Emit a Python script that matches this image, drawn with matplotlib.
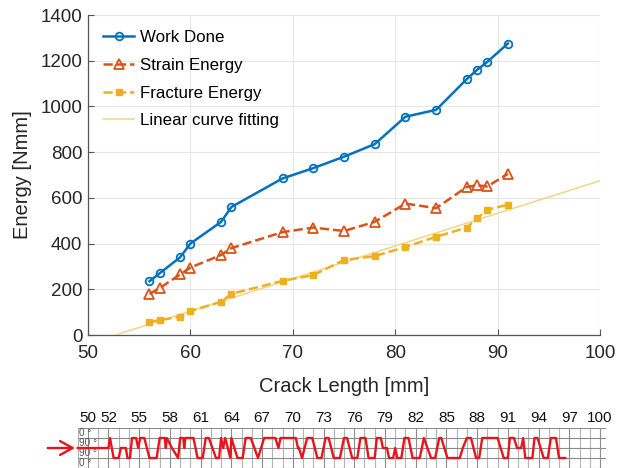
import numpy as np
import matplotlib
matplotlib.use("Agg")
import matplotlib.pyplot as plt

plt.rcParams['font.family'] = ['Liberation Sans', 'DejaVu Sans']

# ---------------- data ----------------
crack_length = [56, 57, 59, 60, 63, 64, 69, 72, 75, 78, 81, 84, 87, 88, 89, 91]
work_done = [235, 270, 340, 400, 495, 560, 685, 730, 780, 835, 955, 985, 1120, 1160, 1195, 1275]
strain_energy = [180, 205, 265, 295, 350, 380, 450, 470, 455, 495, 575, 555, 648, 655, 650, 705]
fracture_energy = [57, 65, 80, 105, 145, 180, 237, 262, 328, 345, 385, 430, 470, 510, 548, 570]
fit_slope = 14.27
fit_intercept = -752.0

x_ticks = [50, 60, 70, 80, 90, 100]
y_ticks = [0, 200, 400, 600, 800, 1000, 1200, 1400]

# ply-angle strip (level: 1 = upper 90°, 0 = mid, -1 = lower 90°)
strip_ticks = [50, 52, 55, 58, 61, 64, 67, 70, 73, 76, 79, 82, 85, 88, 91, 94, 97, 100]
row_labels = ["0 °", "90 °", "90 °", "0 °"]
ply_x = [49, 52.0, 52.15, 52.5, 53.0, 53.2, 53.7, 53.85, 54.1, 54.3, 54.7, 54.9, 55.1, 55.5,
         56.0, 56.7, 57.0, 57.5, 57.6, 57.7, 58.2, 58.8, 59.0, 59.3, 59.4, 59.5, 60.3, 60.7,
         61.2, 61.5, 61.8, 62.5, 62.8, 63.0, 63.2, 63.4, 63.9, 64.0, 64.6, 65.1, 65.4, 65.9,
         66.6, 67.2, 68.3, 68.6, 68.8, 70.3, 70.5, 70.6, 70.9, 71.4, 71.9, 72.4, 72.8, 73.2,
         73.5, 74.0, 74.6, 75.0, 75.3, 75.8, 76.3, 76.6, 77.1, 77.4, 78.0, 78.2, 78.6, 78.8,
         79.2, 79.4, 79.8, 80.0, 80.2, 80.6, 80.9, 81.3, 81.7, 82.4, 82.8, 83.5, 83.9, 84.3,
         84.5, 85.1, 86.3, 86.6, 87.0, 87.4, 87.9, 88.2, 88.5, 90.0, 90.6, 91.0, 91.2, 91.6,
         91.9, 92.3, 92.5, 92.7, 93.4, 93.6, 93.9, 94.5, 94.9, 95.2, 95.7, 96.0, 96.6]
ply_level = [0, 0, 1, -1, -1, 0, 0, -1, -1, 1, 1, 0, 1, 1,
             -1, -1, 1, 1, 0, 1, 0, -1, 1, 1, 0, 1, 1, -1,
             -1, 1, 1, -1, -1, 1, 0, 1, -1, 1, -1, -1, 1, 1,
             -1, 1, 1, 0, 1, 1, 0, 0, -1, 1, 1, -1, -1, 1,
             1, -1, -1, 1, 1, -1, -1, 1, 1, -1, -1, 1, 1, 0,
             0, -1, -1, 0, -1, -1, 1, 1, -1, -1, 1, -1, -1, 1,
             1, -1, -1, 0, 1, 1, -1, -1, 1, 1, -1, -1, 1, 1,
             0, 0, 1, -1, -1, 1, 1, -1, -1, 1, 1, -1, -1]

# ---------------- figure ----------------
W, H = 631, 468
fig = plt.figure(figsize=(W / 100, H / 100), dpi=100)

x0_px, x1_px = 88, 600
ax = fig.add_axes([x0_px / W, 1 - 335 / H, (x1_px - x0_px) / W, (335 - 15) / H])

blue = '#0072BD'
orange = '#D95319'
yellow = '#EDB120'
dark = '#262626'

ax.plot(crack_length, work_done, '-o', color=blue, lw=1.8, ms=5.5,
        mfc='none', mew=1.3, label='Work Done', zorder=4)
ax.plot(crack_length, strain_energy, '--^', color=orange, lw=1.8, ms=7,
        mfc='none', mew=1.3, label='Strain Energy', zorder=4)
ax.plot(crack_length, fracture_energy, '--s', color=yellow, lw=1.8, ms=4.5,
        mfc=yellow, mec=yellow, label='Fracture Energy', zorder=4)
x_fit0 = -fit_intercept / fit_slope
xf = np.array([x_fit0, 100])
ax.plot(xf, fit_slope * xf + fit_intercept, '-', color='#F2D48A', lw=1.1,
        label='Linear curve fitting', zorder=3)

ax.set_xlim(50, 100)
ax.set_ylim(0, 1400)
ax.set_xticks(x_ticks)
ax.set_yticks(y_ticks)
ax.grid(True, color='#E6E6E6', lw=0.8)
ax.set_axisbelow(True)
for s in ['top', 'right']:
    ax.spines[s].set_visible(False)
for s in ['left', 'bottom']:
    ax.spines[s].set_color('#555555')
    ax.spines[s].set_linewidth(0.9)
ax.tick_params(direction='in', length=4, colors='#555555', labelcolor=dark,
               labelsize=13.5, pad=4)
ax.tick_params(axis='x', pad=7)
ax.set_xlabel('Crack Length [mm]', fontsize=14.5, color=dark, labelpad=11)
ax.set_ylabel('Energy [Nmm]', fontsize=14.5, color=dark, labelpad=6)

leg = ax.legend(loc='upper left', frameon=False, fontsize=12.2,
                handlelength=1.8, handletextpad=0.35, labelspacing=0.75,
                borderaxespad=0.5, bbox_to_anchor=(0.0, 1.0))

# ---------------- ply strip ----------------
ppu = (x1_px - x0_px) / 50.0
sx0, sx1 = 49.0, 100.6
left_px = x0_px + (sx0 - 50) * ppu
right_px = x0_px + (sx1 - 50) * ppu
ax2 = fig.add_axes([left_px / W, 0.0, (right_px - left_px) / W, (468 - 428) / H])
ax2.set_xlim(sx0, sx1)
ax2.set_ylim(-2, 2)
for v in np.arange(49, 101):
    c = '#8C8C8C' if v in strip_ticks else '#B4B4B4'
    ax2.axvline(v, color=c, lw=0.8, zorder=1)
for lv in [2, 1, 0, -1, -2]:
    ax2.axhline(lv, color='#8C8C8C', lw=0.8, zorder=1)
for sp in ax2.spines.values():
    sp.set_visible(False)
ax2.set_yticks([])
ax2.set_xticks(strip_ticks)
ax2.xaxis.tick_top()
ax2.tick_params(axis='x', length=0, labelsize=11, pad=2, labelcolor='#111111')

for i, lab in enumerate(row_labels):
    ax2.text(49.1, 1.5 - i, lab, fontsize=7.2, color='#555555', va='center', ha='left',
             zorder=2)

ax2.plot(ply_x, ply_level, '-', color='#E8141C', lw=1.7, zorder=3, clip_on=False)
ax2.annotate('', xy=(49.0, 0), xytext=(45.8, 0), xycoords='data',
             arrowprops=dict(arrowstyle='->,head_length=0.9,head_width=0.5',
                             color='#E8141C', lw=1.7), annotation_clip=False)

fig.savefig('out.png', dpi=100)
